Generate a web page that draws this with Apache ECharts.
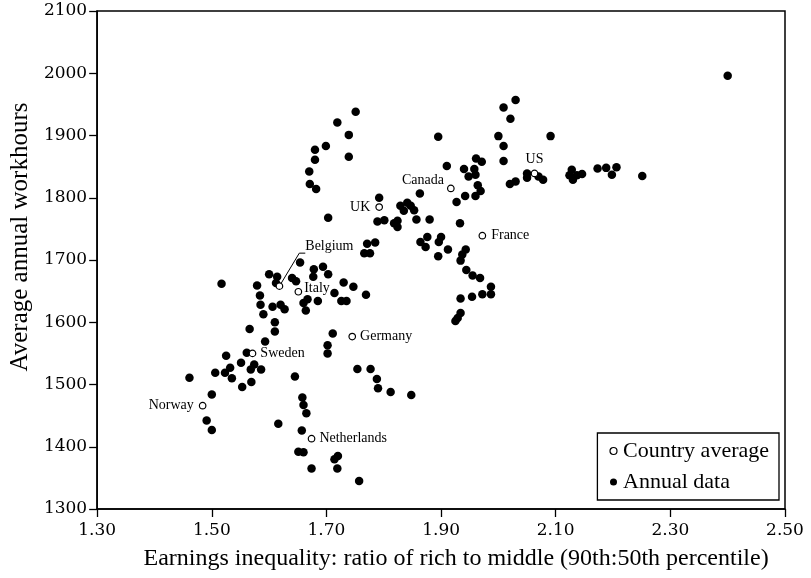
<!DOCTYPE html>
<html><head><meta charset="utf-8">
<script src="https://cdn.jsdelivr.net/npm/echarts@6/dist/echarts.min.js"></script>
<style>html,body{margin:0;padding:0;background:#fff}#c{width:811px;height:578px}</style>
</head><body><div id="c"></div><script>
// ---- data ----
const xRange = [1.30, 2.50], xStep = 0.20;
const yRange = [1300, 2100], yStep = 100;
const xTitle = 'Earnings inequality: ratio of rich to middle (90th:50th percentile)';
const yTitle = 'Average annual workhours';
const legendNames = ['Country average', 'Annual data'];

const countryNames = ['Norway','Sweden','Belgium','Italy','Netherlands','Germany','UK','Canada','France','US'];
const countryX = [1.484, 1.571, 1.618, 1.651, 1.674, 1.745, 1.792, 1.917, 1.972, 2.063];
const countryY = [1466, 1550, 1658, 1649, 1413, 1577, 1785, 1815, 1739, 1839];

const annualData = [
 [2.400,1996],[2.030,1957],[2.009,1945],[2.021,1927],[1.895,1898],[2.000,1899],[2.091,1899],[2.009,1883],
 [1.910,1851],[1.961,1863],[1.971,1858],[2.009,1859],[1.940,1846],[1.958,1846],[1.948,1834],[1.960,1837],
 [1.964,1820],[1.969,1811],[1.960,1803],[1.942,1803],[1.927,1793],[1.863,1807],[2.020,1822],[2.030,1826],
 [2.050,1839],[2.050,1832],[2.070,1834],[2.078,1829],
 [2.128,1845],[2.124,1836],[2.130,1829],[2.137,1836],[2.146,1838],[2.173,1847],[2.188,1848],[2.206,1849],
 [2.198,1837],[2.251,1835],
 [1.829,1787],[1.835,1779],[1.841,1792],[1.847,1787],[1.853,1780],
 [1.857,1765],[1.880,1765],[1.933,1759],[1.876,1737],[1.864,1729],[1.873,1721],[1.900,1737],[1.896,1729],
 [1.912,1717],[1.895,1706],[1.943,1717],[1.937,1709],[1.934,1699],[1.944,1684],[1.955,1675],[1.968,1671],
 [1.987,1657],[1.987,1645],[1.972,1645],[1.954,1641],[1.934,1638],[1.934,1615],[1.929,1607],[1.925,1602],
 [1.792,1800],[1.789,1762],[1.801,1764],[1.818,1759],[1.824,1763],[1.824,1753],
 [1.771,1726],[1.785,1728],[1.766,1711],[1.776,1711],
 [1.751,1938],[1.719,1921],[1.739,1901],[1.699,1883],[1.680,1877],[1.680,1861],[1.739,1866],[1.670,1842],
 [1.671,1822],[1.682,1814],[1.703,1768],
 [1.654,1696],[1.678,1685],[1.694,1689],[1.703,1677],[1.677,1673],[1.640,1671],[1.647,1666],[1.600,1677],
 [1.614,1673],[1.612,1663],[1.730,1664],[1.747,1657],[1.714,1647],[1.769,1644],[1.726,1634],[1.735,1634],
 [1.685,1634],[1.667,1637],[1.660,1631],[1.664,1619],[1.620,1628],[1.627,1621],[1.606,1625],[1.610,1600],
 [1.610,1585],
 [1.517,1662],[1.579,1659],[1.584,1643],[1.585,1628],[1.590,1613],[1.566,1589],[1.593,1569],[1.561,1551],
 [1.525,1546],[1.551,1535],[1.574,1532],[1.568,1524],[1.586,1524],[1.532,1527],[1.506,1519],[1.523,1519],
 [1.535,1510],[1.569,1504],[1.553,1496],[1.461,1511],[1.645,1513],[1.500,1484],[1.491,1442],[1.500,1427],
 [1.616,1437],
 [1.711,1582],[1.702,1563],[1.702,1550],[1.754,1525],[1.777,1525],[1.788,1509],[1.790,1494],[1.812,1488],
 [1.848,1483],
 [1.658,1479],[1.660,1467],[1.665,1454],[1.657,1426],[1.651,1392],[1.660,1391],[1.714,1380],[1.720,1385],
 [1.674,1365],[1.719,1365],[1.757,1345]
];

// ---- label placement per country (style only) ----
const labelStyle = {
  Norway: {position:'left', distance:5},
  Sweden: {position:'right', distance:4},
  Belgium: {position:'right', offset:[17,-40]},
  Italy: {position:'right', distance:2, offset:[0,-3]},
  Netherlands: {position:'right', distance:4},
  Germany: {position:'right', distance:4},
  UK: {position:'left', distance:5},
  Canada: {position:'left', distance:3, offset:[0,-8]},
  France: {position:'right', distance:5},
  US: {position:'top', distance:3}
};

const serif = '"Liberation Serif", "Times New Roman", serif';
const numFont = '"DejaVu Serif", serif';

const countryData = countryNames.map((n, i) => {
  const item = {name: n, value: [countryX[i], countryY[i]], label: Object.assign({show: true}, labelStyle[n])};
  if (n === 'Belgium') {
    item.labelLine = {show: true, length2: 6, lineStyle: {color: '#000', width: 1}};
  }
  return item;
});

const chart = echarts.init(document.getElementById('c'), null, {renderer: 'canvas'});
chart.setOption({
  animation: false,
  backgroundColor: '#fff',
  grid: {left: 96, right: 26, top: 11, bottom: 69, show: true, borderColor: '#000', borderWidth: 1.5},
  legend: {
    orient: 'vertical', right: 32, bottom: 78,
    backgroundColor: '#fff', borderColor: '#000', borderWidth: 1.3,
    padding: [7, 10, 7, 12], itemGap: 9,
    itemWidth: 7, itemHeight: 7,
    textStyle: {fontFamily: serif, fontSize: 22, color: '#000', padding: [0,0,0,1]},
    data: [
      {name: legendNames[0], icon: 'circle', itemStyle: {color: '#fff', borderColor: '#000', borderWidth: 1.2, opacity: 1}},
      {name: legendNames[1], icon: 'circle', itemStyle: {color: '#000', opacity: 1}}
    ]
  },
  xAxis: {
    type: 'value', min: xRange[0], max: xRange[1], interval: xStep,
    axisLine: {show: true, lineStyle: {color: '#000', width: 1.5}},
    axisTick: {show: true, length: 8, lineStyle: {color: '#000', width: 1.3}},
    axisLabel: {color: '#000', fontFamily: numFont, fontSize: 17, margin: 13, formatter: v => v.toFixed(2)},
    splitLine: {show: false},
    name: xTitle, nameLocation: 'middle', nameGap: 38,
    nameTextStyle: {fontFamily: serif, fontSize: 24, color: '#000', padding: [0, 0, 0, 30]}
  },
  yAxis: {
    type: 'value', min: yRange[0], max: yRange[1], interval: yStep,
    axisLine: {show: true, lineStyle: {color: '#000', width: 1.5}},
    axisTick: {show: true, length: 8, lineStyle: {color: '#000', width: 1.3}},
    axisLabel: {color: '#000', fontFamily: numFont, fontSize: 17, margin: 10, formatter: v => String(v)},
    splitLine: {show: false},
    name: yTitle, nameLocation: 'middle', nameGap: 62,
    nameTextStyle: {fontFamily: serif, fontSize: 25, color: '#000', padding: [0, 0, 0, 46]}
  },
  series: [
    {
      name: legendNames[1], type: 'scatter', symbol: 'circle', symbolSize: 8.5, z: 2,
      itemStyle: {color: '#000', opacity: 1},
      data: annualData
    },
    {
      name: legendNames[0], type: 'scatter', symbol: 'circle', symbolSize: 6.5, z: 3,
      itemStyle: {color: '#fff', borderColor: '#000', borderWidth: 1.2, opacity: 1},
      label: {show: true, formatter: '{b}', fontFamily: serif, fontSize: 14, color: '#000'},
      data: countryData
    }
  ]
});
</script></body></html>
